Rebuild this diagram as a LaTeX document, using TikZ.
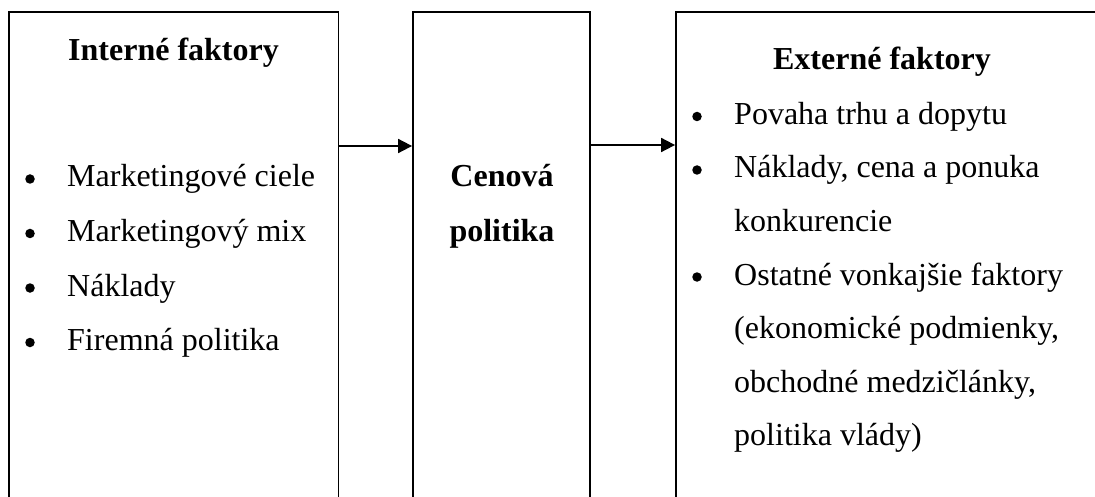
\documentclass[tikz,border=0pt]{standalone}
\usepackage{fontspec}
\setmainfont{Liberation Serif}
\usetikzlibrary{arrows.meta}
\tikzset{
  boxframe/.style={draw=black, line width=1.8pt, inner sep=0pt, fill=none},
  arr/.style={line width=1.8pt, -{Triangle[length=14pt,width=14pt]}},
  txt/.style={anchor=base west, inner sep=0pt, font=\fontsize{32}{32}\selectfont},
  hdr/.style={anchor=base, inner sep=0pt, font=\fontsize{32}{32}\selectfont\bfseries},
  bul/.style={circle, fill=black, inner sep=0pt, minimum size=9.5pt}
}
\begin{document}
\begin{tikzpicture}[x=1pt,y=-1pt]
\useasboundingbox (0,0) rectangle (1095,497);
\clip (0,0) rectangle (1095,497);
% boxes (bottoms run past the picture)
\node[boxframe, minimum width=329.5pt, minimum height=508pt] (L) at (173.75,266) {};
\node[boxframe, minimum width=177pt, minimum height=508pt] (M) at (501.5,266) {};
\node[boxframe, minimum width=440pt, minimum height=508pt] (R) at (896,266) {};
% arrows
\coordinate (ya) at (0,146);
\coordinate (yb) at (0,145);
\draw[arr] (L.east |- ya) -- (M.west |- ya);
\draw[arr] (M.east |- yb) -- (R.west |- yb);
% left box
\node[hdr] (lh) at (173.5,61) {Interné faktory};
\node[bul] (lb1) at (30,179) {};
\node[txt] (l1) at (67,187) {Marketingové ciele};
\node[bul] (lb2) at (30,233.5) {};
\node[txt] (l2) at (67,241.5) {Marketingový mix};
\node[bul] (lb3) at (30,288) {};
\node[txt] (l3) at (67,296) {Náklady};
\node[bul] (lb4) at (30,342.5) {};
\node[txt] (l4) at (67,350.5) {Firemná politika};
% middle box
\node[hdr] (m1) at (502,187) {Cenová};
\node[hdr] (m2) at (502,241) {politika};
% right box
\node[hdr] (rh) at (882,70) {Externé faktory};
\node[bul] (rb1) at (697,116.5) {};
\node[txt] (r1) at (734,124.5) {Povaha trhu a dopytu};
\node[bul] (rb2) at (697,170) {};
\node[txt] (r2) at (734,178) {Náklady, cena a ponuka};
\node[txt] (r3) at (734,231.5) {konkurencie};
\node[bul] (rb3) at (697,277) {};
\node[txt] (r4) at (734,285) {Ostatné vonkajšie faktory};
\node[txt] (r5) at (734,338) {(ekonomické podmienky,};
\node[txt] (r6) at (734,392) {obchodné medzičlánky,};
\node[txt] (r7) at (734,445) {politika vlády)};
\end{tikzpicture}
\end{document}
